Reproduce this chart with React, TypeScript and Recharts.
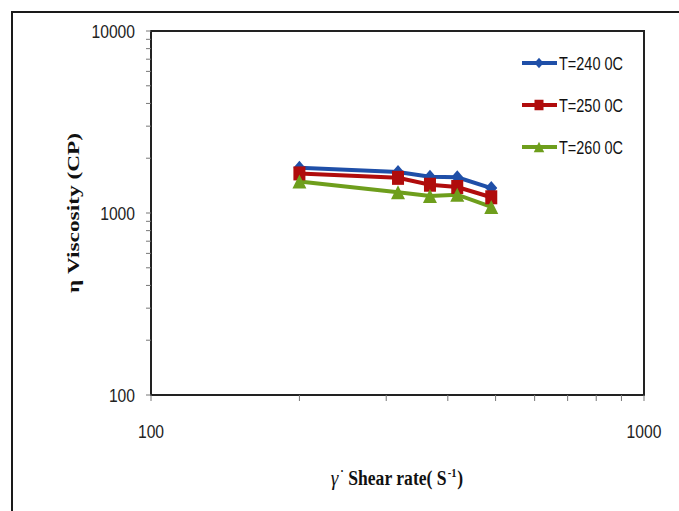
import React from "react";
import { LineChart, Line, XAxis, YAxis, Legend, ReferenceArea } from "recharts";

const SHEAR_RATE = [200, 317, 368, 418, 490];
const VISC_240 = [1770, 1680, 1580, 1570, 1370];
const VISC_250 = [1650, 1560, 1430, 1390, 1220];
const VISC_260 = [1490, 1300, 1240, 1260, 1080];

const X_TICKS = [100, 200, 300, 400, 500, 600, 700, 800, 900, 1000];
const Y_TICKS = [
  100, 200, 300, 400, 500, 600, 700, 800, 900, 1000, 2000, 3000, 4000, 5000,
  6000, 7000, 8000, 9000, 10000,
];
const MAJOR = [100, 1000, 10000];

const SERIES = [
  { name: "T=240 0C", values: VISC_240, color: "#1F4FA8", shape: "diamond" },
  { name: "T=250 0C", values: VISC_250, color: "#B00C0C", shape: "square" },
  { name: "T=260 0C", values: VISC_260, color: "#6E9E1C", shape: "triangle" },
];

const toRows = (values: number[]) =>
  SHEAR_RATE.map((x, i) => ({ x, y: values[i] }));

const TICK_FONT = "'Liberation Sans', Arial, sans-serif";
const TITLE_FONT = "'Liberation Serif', 'Times New Roman', serif";

function Marker({ shape, cx, cy, color, s = 1 }: any) {
  if (shape === "diamond") {
    const w = 6 * s, h = 7 * s;
    return <polygon points={`${cx},${cy - h} ${cx + w},${cy} ${cx},${cy + h} ${cx - w},${cy}`} fill={color} />;
  }
  if (shape === "square") {
    const w = 6 * s, h = 7 * s;
    return <rect x={cx - w} y={cy - h} width={w * 2} height={h * 2} fill={color} />;
  }
  const w = 7 * s, h = 7 * s;
  return <polygon points={`${cx},${cy - h} ${cx + w},${cy + h} ${cx - w},${cy + h}`} fill={color} />;
}

// condensed look of the original labels: squeeze each label to ~8.7px per digit
function TickText({ x, y, value, anchor, dy }: any) {
  const str = String(value);
  return (
    <text
      x={x}
      y={y}
      dy={dy}
      textAnchor={anchor}
      fontSize={19}
      fontFamily={TICK_FONT}
      fill="#222"
      textLength={str.length * 8.7}
      lengthAdjust="spacingAndGlyphs"
    >
      {str}
    </text>
  );
}

function XTick({ x, y, payload }: any) {
  if (!MAJOR.includes(payload.value)) return <g />;
  return <TickText x={x} y={y} value={payload.value} anchor="middle" dy="0.71em" />;
}

function YTick({ x, y, payload }: any) {
  if (!MAJOR.includes(payload.value)) return <g />;
  return <TickText x={x} y={y} value={payload.value} anchor="end" dy="0.36em" />;
}

function YTitle({ viewBox }: any) {
  const cx = viewBox.x + 22;
  const cy = viewBox.y + viewBox.height / 2;
  return (
    <text
      x={cx}
      y={cy}
      transform={`rotate(-90, ${cx}, ${cy})`}
      textAnchor="middle"
      dy="0.35em"
      fontSize={16}
      fontWeight="bold"
      fontFamily={TITLE_FONT}
      fill="#111"
      textLength={160}
      lengthAdjust="spacingAndGlyphs"
    >
      η Viscosity (CP)
    </text>
  );
}

function XTitle({ viewBox }: any) {
  const cx = viewBox.x + viewBox.width / 2;
  const y = viewBox.y + 90;
  return (
    <g transform={`translate(${cx}, ${y}) scale(0.88, 1)`}>
      <text x={-76} y={0} fontSize={22} fontStyle="italic" fontFamily={TITLE_FONT} fill="#111">
        γ
      </text>
      <text x={-65} y={-10} fontSize={12} fontWeight="bold" fontFamily={TITLE_FONT} fill="#111">
        ·
      </text>
      <text x={-56} y={0} fontSize={20} fontWeight="bold" fontFamily={TITLE_FONT} fill="#111">
        Shear rate( S
      </text>
      <text x={57} y={-8} fontSize={12} fontWeight="bold" fontFamily={TITLE_FONT} fill="#111">
        -1
      </text>
      <text x={68} y={0} fontSize={20} fontWeight="bold" fontFamily={TITLE_FONT} fill="#111">
        )
      </text>
    </g>
  );
}

function LegendBox() {
  return (
    <svg width={130} height={110}>
      {SERIES.map((s, i) => {
        const cy = 10 + i * 42;
        return (
          <g key={s.name}>
            <line x1={1} y1={cy} x2={36} y2={cy} stroke={s.color} strokeWidth={4} />
            <Marker shape={s.shape} cx={18} cy={cy} color={s.color} s={0.75} />
            <text
              x={38}
              y={cy}
              dy="0.36em"
              fontSize={19}
              fontFamily={TICK_FONT}
              fill="#111"
              textLength={64}
              lengthAdjust="spacingAndGlyphs"
            >
              {s.name}
            </text>
          </g>
        );
      })}
    </svg>
  );
}

export default function App() {
  return (
    <div style={{ position: "absolute", left: 0, top: 0, width: 679, height: 511, background: "#fff", overflow: "hidden" }}>
      <div
        style={{
          position: "absolute",
          left: 11,
          top: 11,
          width: 700,
          height: 520,
          borderLeft: "2px solid #1a1a1a",
          borderTop: "2px solid #1a1a1a",
        }}
      />
      <LineChart width={679} height={511} margin={{ top: 31, right: 35, bottom: 66, left: 51 }}>
        <XAxis
          type="number"
          dataKey="x"
          scale="log"
          domain={[100, 1000]}
          ticks={X_TICKS}
          interval={0}
          allowDataOverflow
          height={50}
          tickSize={6}
          tickMargin={24}
          axisLine={{ stroke: "#222", strokeWidth: 2 }}
          tickLine={{ stroke: "#777" }}
          tick={<XTick />}
          label={<XTitle />}
        />
        <YAxis
          type="number"
          dataKey="y"
          scale="log"
          domain={[100, 10000]}
          ticks={Y_TICKS}
          interval={0}
          allowDataOverflow
          width={100}
          tickSize={5}
          tickMargin={11}
          axisLine={{ stroke: "#222", strokeWidth: 2 }}
          tickLine={{ stroke: "#777" }}
          tick={<YTick />}
          label={<YTitle />}
        />
        <ReferenceArea x1={100} x2={1000} y1={100} y2={10000} fill="none" stroke="#222" strokeWidth={2} ifOverflow="visible" />
        <Legend
          layout="horizontal"
          verticalAlign="middle"
          align="center"
          wrapperStyle={{ top: 53, left: 521, width: 130 }}
          content={<LegendBox />}
        />
        {SERIES.map((s) => (
          <Line
            key={s.name}
            data={toRows(s.values)}
            dataKey="y"
            name={s.name}
            stroke={s.color}
            strokeWidth={4}
            isAnimationActive={false}
            dot={(p: any) => <Marker key={p.index} shape={s.shape} cx={p.cx} cy={p.cy} color={s.color} />}
            activeDot={false}
          />
        ))}
      </LineChart>
    </div>
  );
}
